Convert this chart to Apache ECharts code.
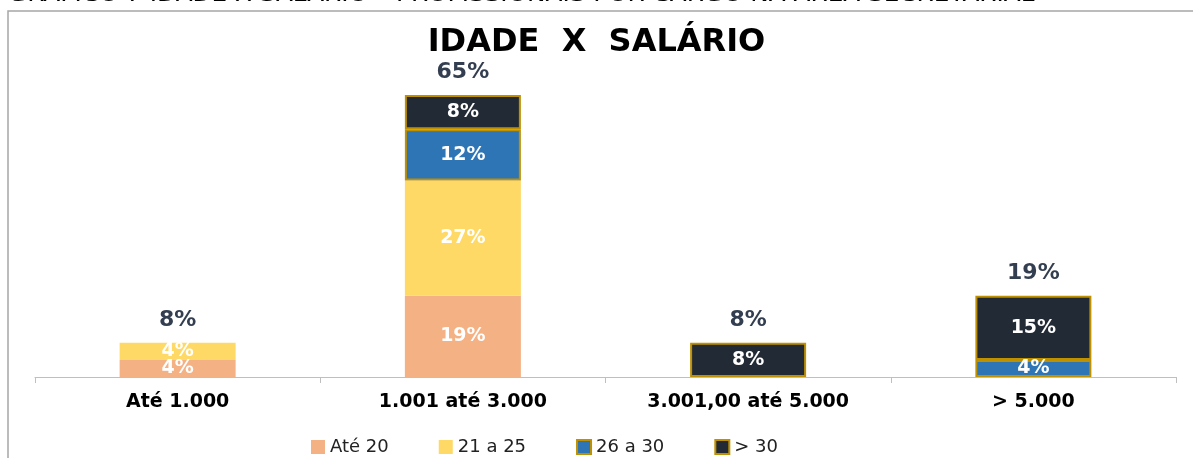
<!DOCTYPE html>
<html>
<head>
<meta charset="utf-8">
<script src="https://cdn.jsdelivr.net/npm/echarts@6/dist/echarts.min.js"></script>
<style>
  html, body { margin: 0; padding: 0; background: #fff; }
  #chart { width: 1193px; height: 458px; }
</style>
</head>
<body>
<div id="chart"></div>
<script>
var categorias = ['Até 1.000', '1.001 até 3.000', '3.001,00 até 5.000', '> 5.000'];
var ate20 = [4, 19, 0, 0];
var de21a25 = [4, 27, 0, 0];
var de26a30 = [0, 12, 0, 4];
var acima30 = [0, 8, 8, 15];
var totais = [8, 65, 8, 19];

var fonte = 'DejaVu Sans';
var myChart = echarts.init(document.getElementById('chart'));

function semZero(arr) {
    var out = [];
    for (var i = 0; i < arr.length; i++) {
        out.push(arr[i] ? arr[i] : '-');
    }
    return out;
}

var rotulo = {
    show: true,
    position: 'inside',
    color: '#fff',
    fontFamily: fonte,
    fontWeight: 'bold',
    fontSize: 19,
    formatter: '{c}%'
};

function serie(nome, dados, cor, borda) {
    return {
        name: nome,
        type: 'bar',
        stack: 'idade',
        barWidth: 116,
        data: semZero(dados),
        itemStyle: borda ? {color: cor, borderColor: '#BF9000', borderWidth: 2} : {color: cor},
        label: rotulo
    };
}

var option = {
    animation: false,
    textStyle: {fontFamily: fonte},
    graphic: [
        {
            type: 'rect',
            shape: {x: 8, y: 11, width: 1400, height: 600},
            style: {fill: 'none', stroke: '#A6A6A6', lineWidth: 1.5}
        },
        {
            type: 'text',
            left: 8,
            top: -13,
            scaleX: 1.3,
            style: {
                text: 'GRÁFICO 7 IDADE X SALÁRIO – PROFISSIONAIS POR CARGO NA ÁREA SECRETARIAL',
                font: '19px ' + fonte,
                fill: '#000'
            }
        }
    ],
    title: {
        text: 'IDADE  X  SALÁRIO',
        left: 'center',
        top: 22,
        textStyle: {fontFamily: fonte, fontWeight: 'bold', fontSize: 32, color: '#000'}
    },
    legend: {
        data: ['Até 20', '21 a 25', '26 a 30', '> 30'],
        left: 306,
        bottom: -3,
        icon: 'rect',
        itemWidth: 14,
        itemHeight: 14,
        itemGap: 50,
        textStyle: {fontFamily: fonte, fontSize: 18, color: '#222'}
    },
    grid: {left: 35, right: 17, top: 78, bottom: 81},
    xAxis: {
        type: 'category',
        data: categorias,
        axisLine: {lineStyle: {color: '#BFBFBF', width: 1}},
        axisTick: {show: true, length: 6, lineStyle: {color: '#BFBFBF'}},
        axisLabel: {
            color: '#000',
            fontFamily: fonte,
            fontWeight: 'bold',
            fontSize: 19,
            margin: 16
        }
    },
    yAxis: {
        type: 'value',
        min: 0,
        max: 70,
        show: false,
        splitLine: {show: false}
    },
    series: [
        serie('Até 20', ate20, '#F4B183', false),
        serie('21 a 25', de21a25, '#FFD966', false),
        serie('26 a 30', de26a30, '#2E75B6', true),
        serie('> 30', acima30, '#222A35', true),
        {
            name: 'Total',
            type: 'bar',
            stack: 'idade',
            barWidth: 116,
            data: totais.map(function () { return 0; }),
            itemStyle: {color: 'transparent'},
            label: {
                show: true,
                position: 'top',
                distance: 12,
                color: '#333F50',
                fontFamily: fonte,
                fontWeight: 'bold',
                fontSize: 22,
                formatter: function (p) { return totais[p.dataIndex] + '%'; }
            }
        }
    ]
};

myChart.setOption(option);
window.onresize = myChart.resize;
</script>
</body>
</html>
